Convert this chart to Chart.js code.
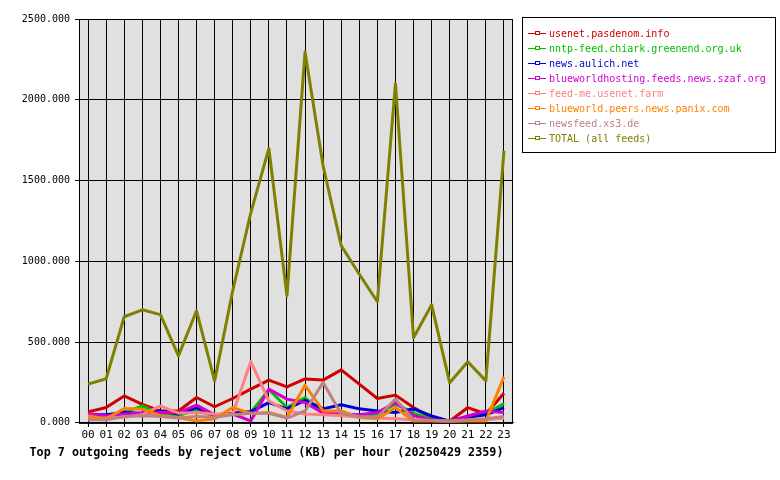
<!DOCTYPE html>
<html>
<head>
<meta charset="utf-8">
<script src="https://cdn.jsdelivr.net/npm/chart.js@4"></script>
<style>
body{margin:0;background:#fff;width:780px;height:480px;overflow:hidden}
#wrap{position:relative;width:780px;height:480px}
#legend{position:absolute;left:522px;top:17px;width:254px;height:136px;border:1px solid #000;font:10px "DejaVu Sans Mono",monospace;padding-top:8px;box-sizing:border-box}
#legend div{height:15px;line-height:15px;white-space:nowrap;position:relative;padding-left:26px}
#legend span.sw{position:absolute;left:5px;top:7px;width:18px;height:1px}
#legend span.mk{position:absolute;left:12px;top:5px;width:3px;height:2px;background:#fff}
</style>
</head>
<body>
<div id="wrap">
<canvas id="chart1" width="780" height="480"></canvas>
<div id="legend"></div>
</div>
<script>
const hours = ['00','01','02','03','04','05','06','07','08','09','10','11','12','13','14','15','16','17','18','19','20','21','22','23']
const feeds = ['usenet.pasdenom.info','nntp-feed.chiark.greenend.org.uk','news.aulich.net','blueworldhosting.feeds.news.szaf.org','feed-me.usenet.farm','blueworld.peers.news.panix.com','newsfeed.xs3.de','TOTAL (all feeds)']
const colores = ['#d00000','#00c000','#0000d0','#d000d0','#ff8080','#ff8000','#c08080','#808000']

const pasdenom = [68,95,167,115,74,74,157,100,151,209,265,223,272,265,328,240,151,172,95,33,10,95,55,184]
const chiark = [35,40,65,105,55,45,80,40,60,65,205,95,157,60,50,45,55,118,60,25,10,40,55,120]
const aulich = [50,50,64,60,74,55,95,45,60,70,126,87,140,87,112,87,74,64,87,43,10,35,50,95]
const szaf = [58,45,55,60,64,64,110,50,55,12,209,147,126,60,55,50,64,126,45,20,10,43,74,64]
const feedme = [25,30,35,50,105,60,65,55,55,380,136,74,55,50,45,35,30,25,20,15,10,15,20,30]
const panix = [45,25,89,85,45,33,12,25,95,58,64,33,233,74,74,33,25,95,12,12,10,12,12,285]
const xs3 = [19,20,40,45,40,30,40,35,50,60,60,30,74,250,55,40,35,148,20,15,10,20,25,40]
const total = [240,273,657,700,670,415,694,260,818,1300,1699,787,2296,1590,1097,920,750,2100,527,731,248,378,260,1686]

const yTicks = [0,500,1000,1500,2000,2500]

iniciarGrafico()

function iniciarGrafico(){
    leyenda()
    grafico1()
}

function leyenda(){
    const box = document.getElementById('legend')
    feeds.forEach((f, i) => {
        const d = document.createElement('div')
        d.style.color = colores[i]
        d.innerHTML = '<span class="sw" style="background:' + colores[i] + '"></span><span class="mk" style="border:1px solid ' + colores[i] + '"></span>' + f
        box.appendChild(d)
    })
}

function grafico1(){
    const series = [pasdenom, chiark, aulich, szaf, feedme, panix, xs3, total]
    const data = {
        labels: hours,
        datasets: series.map((s, i) => ({
            label: feeds[i],
            data: s,
            borderColor: colores[i],
            backgroundColor: colores[i],
            borderWidth: 3,
            borderJoinStyle: 'round',
            pointRadius: 0,
            tension: 0,
            order: series.length - i
        }))
    }

    const fondo = {
        id: 'fondo',
        beforeDraw(chart){
            const {ctx, chartArea: a} = chart
            ctx.save()
            ctx.fillStyle = '#e0e0e0'
            ctx.fillRect(a.left, a.top, a.right - a.left, a.bottom - a.top)
            ctx.restore()
        },
        afterDraw(chart){
            const {ctx, chartArea: a} = chart
            ctx.save()
            ctx.strokeStyle = '#000'
            ctx.lineWidth = 1
            ctx.strokeRect(a.left + 0.5, a.top + 0.5, a.right - a.left - 1, a.bottom - a.top)
            ctx.restore()
        }
    }

    const mono = '"DejaVu Sans Mono", monospace'
    new Chart(document.getElementById('chart1'), {
        type: 'line',
        data,
        plugins: [fondo],
        options: {
            responsive: false,
            animation: false,
            layout: {padding: {top: 19, right: 267, left: 20, bottom: 20}},
            plugins: {
                legend: {display: false},
                tooltip: {enabled: false},
                title: {
                    display: true,
                    position: 'bottom',
                    text: 'Top 7 outgoing feeds by reject volume (KB) per hour (20250429 2359)',
                    color: '#000',
                    font: {family: mono, size: 11.75, weight: 'bold'},
                    padding: {top: 4, bottom: 0}
                }
            },
            scales: {
                x: {
                    offset: true,
                    afterFit: s => { s.height = 19 },
                    grid: {color: '#000', tickLength: 4},
                    border: {color: '#000'},
                    ticks: {color: '#000', font: {family: mono, size: 11}, maxRotation: 0, autoSkip: false, padding: 2}
                },
                y: {
                    min: 0,
                    max: 2500,
                    afterBuildTicks: s => { s.ticks = yTicks.map(v => ({value: v})) },
                    afterFit: s => { s.width = 59 },
                    grid: {color: '#000', tickLength: 4},
                    border: {color: '#000'},
                    ticks: {color: '#000', font: {family: mono, size: 10}, padding: 5, callback: v => v.toFixed(3)}
                }
            }
        }
    })
}
</script>
</body>
</html>
